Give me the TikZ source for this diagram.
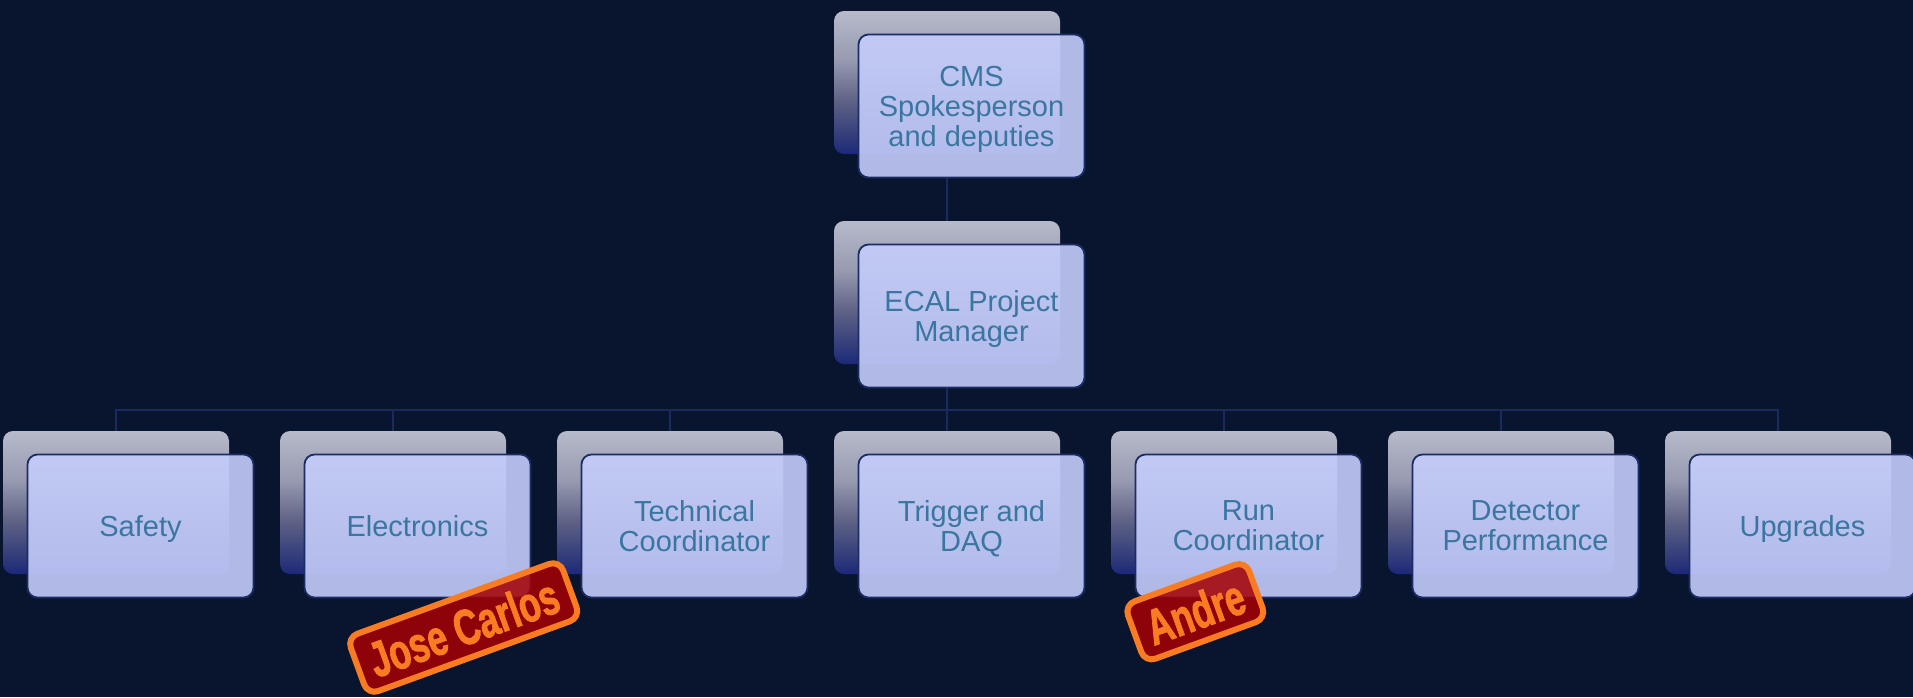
\documentclass[tikz,border=0pt]{standalone}
\usepackage{fontspec}
\setmainfont{Liberation Sans}
\newfontfamily\stampfont[BoldFeatures={FakeBold=2}]{Liberation Sans}

% palette
\definecolor{bgnavy}{RGB}{9,21,46}
\definecolor{bktop}{RGB}{182,186,202}
\definecolor{bkmid}{RGB}{152,155,177}
\definecolor{bklow}{RGB}{96,99,134}
\definecolor{bkdeep}{RGB}{50,60,122}
\definecolor{bkbot}{RGB}{28,40,122}
\definecolor{frontfill}{RGB}{196,204,250}
\definecolor{frontline}{RGB}{28,44,100}
\definecolor{labelblue}{RGB}{58,118,160}
\definecolor{connline}{RGB}{26,42,94}
\definecolor{stampred}{RGB}{164,0,4}
\definecolor{stamporange}{RGB}{249,124,34}

% grey-to-navy fade of the rear cards
\pgfdeclareverticalshading{backshade}{100bp}{%
  color(0bp)=(bkbot); color(25bp)=(bkbot); color(31bp)=(bkdeep);
  color(44bp)=(bklow); color(58bp)=(bkmid); color(75bp)=(bktop);
  color(100bp)=(bktop)}

\pgfdeclarelayer{canvas}
\pgfdeclarelayer{lines}
\pgfsetlayers{canvas,lines,main}

\tikzset{
  backbox/.style={minimum width=226pt, minimum height=143pt, inner sep=0pt,
    rounded corners=10pt, shade, shading=backshade},
  frontbox/.style={minimum width=226pt, minimum height=143pt, inner sep=4pt,
    rounded corners=10pt, fill=frontfill, fill opacity=0.9, text opacity=1,
    draw=frontline, line width=1.8pt, text=labelblue, align=center,
    text depth=0pt, font=\fontsize{29}{30}\selectfont},
  conn/.style={draw=connline, line width=1.3pt},
  stamp/.style={draw=stamporange, line width=6pt, fill=stampred,
    fill opacity=0.86, draw opacity=1, text opacity=1, rounded corners=11pt,
    rotate=20, text=stamporange, inner sep=0pt, minimum height=61pt,
    font=\stampfont\bfseries\fontsize{50}{50}\selectfont},
}

\begin{document}
\begin{tikzpicture}[x=1pt,y=-1pt]
\useasboundingbox (0,0) rectangle (1913,697);
\begin{pgfonlayer}{canvas}
  \fill[bgnavy] (0,0) rectangle (1913,697);
\end{pgfonlayer}

% rear cards
\node[backbox] (cmsB)  at (947,82.5) {};
\node[backbox] (ecalB) at (947,292.5) {};
\node[backbox] (safB)  at (116,502.5) {};
\node[backbox] (eleB)  at (393,502.5) {};
\node[backbox] (tecB)  at (670,502.5) {};
\node[backbox] (trgB)  at (947,502.5) {};
\node[backbox] (runB)  at (1224,502.5) {};
\node[backbox] (detB)  at (1501,502.5) {};
\node[backbox] (upgB)  at (1778,502.5) {};

% front cards with the labels
\node[frontbox] (cms)  at (971.5,106) {CMS\\Spokesperson\\and deputies};
\node[frontbox] (ecal) at (971.5,316) {ECAL Project\\Manager};
\node[frontbox] (saf)  at (140.5,526) {Safety};
\node[frontbox] (ele)  at (417.5,526) {Electronics};
\node[frontbox] (tec)  at (694.5,526) {Technical\\Coordinator};
\node[frontbox] (trg)  at (971.5,526) {Trigger and\\DAQ};
\node[frontbox] (run)  at (1248.5,526) {Run\\Coordinator};
\node[frontbox] (det)  at (1525.5,526) {Detector\\Performance};
\node[frontbox] (upg)  at (1802.5,526) {Upgrades};

% tree connectors
\coordinate (bus) at (0,410);
\begin{pgfonlayer}{lines}
  \draw[conn] (cmsB.south |- cms.south) -- (ecalB.north);
  \foreach \c in {safB,eleB,tecB,trgB,runB,detB,upgB}{
    \draw[conn] (ecalB.south |- ecal.south) -- (ecalB.south |- bus) -| (\c.north);
  }
\end{pgfonlayer}

% name stamps
\node[stamp, minimum width=226pt] (jose)  at (463.7,627.5) {\scalebox{0.7}[1]{Jose Carlos}};
\node[stamp, minimum width=129pt] (andre) at (1195.3,611.7) {\scalebox{0.7}[1]{Andre}};
\end{tikzpicture}
\end{document}
